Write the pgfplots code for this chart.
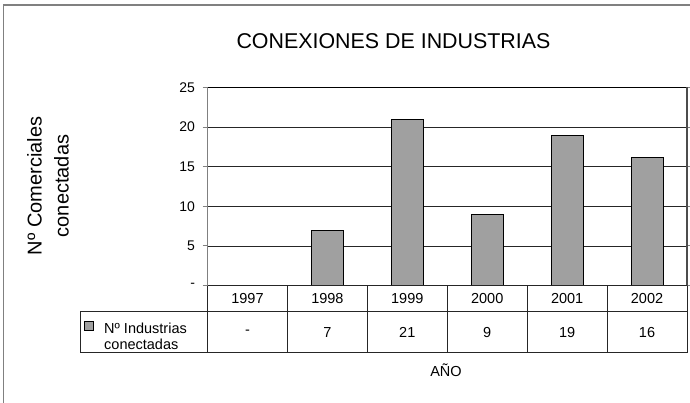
\documentclass[border=0pt]{standalone}
\usepackage{pgfplots}
\pgfplotsset{compat=1.18}
\usepackage{fontspec}
\setmainfont{Liberation Sans}
\definecolor{barfill}{RGB}{160,160,160}
\definecolor{axgray}{RGB}{128,128,128}
\newcommand{\tabfont}{\fontsize{14.5}{17}\selectfont}
\begin{document}
\begin{tikzpicture}
\useasboundingbox (0pt,0pt) rectangle (690pt,-403pt);
% outer chart border (right and bottom lie outside the picture)
\draw[axgray, line width=1.6pt] (3.5pt,-403pt) -- (3.5pt,-5pt) -- (690pt,-5pt);
\begin{axis}[
  at={(207.5pt,-285.5pt)}, anchor=south west,
  scale only axis, width=479.5pt, height=198pt,
  xmin=-0.5, xmax=5.5, ymin=0, ymax=25,
  clip=false,
  axis line style={draw=none},
  ytick={0,5,10,15,20,25}, yticklabels={-,5,10,15,20,25},
  ymajorgrids, grid style={black!85, line width=0.8pt},
  tick align=outside, major tick length=5pt,
  ytick style={axgray, line width=1pt},
  xtick={0,1,2,3,4,5}, xticklabels={1997,1998,1999,2000,2001,2002},
  xtick style={draw=none},
  xticklabel style={anchor=center, yshift=-8.5pt, font=\tabfont},
  yticklabel style={font=\fontsize{14}{16}\selectfont, xshift=-4pt},
  /pgf/number format/assume math mode=true,
]
\addplot[ybar, bar width=32pt, fill=barfill, draw=black, line width=0.9pt]
  coordinates {(1,7) (2,21) (3,9) (4,19) (5,16.2)};
\addplot[draw=none, point meta=explicit symbolic, nodes near coords,
  every node near coord/.append style={anchor=center, font=\tabfont}]
  coordinates {(0,-5.9) [-] (1,-5.9) [7] (2,-5.9) [21] (3,-5.9) [9] (4,-5.9) [19] (5,-5.9) [16]};
\end{axis}
% plot frame
\draw[axgray, line width=1.6pt] (207.5pt,-87.3pt) -- (207.5pt,-285.5pt);
\draw[black, line width=1pt] (207.5pt,-87.3pt) -- (687pt,-87.3pt);
\draw[black!70, line width=1.6pt] (687pt,-87.3pt) -- (687pt,-285.5pt);
% data table
\draw[black!85, line width=1pt] (207.5pt,-285.5pt) -- (687pt,-285.5pt);
\draw[black!85, line width=1pt] (80pt,-311.7pt) -- (687pt,-311.7pt);
\draw[black!85, line width=1pt] (80pt,-352.7pt) -- (687pt,-352.7pt);
\draw[black!85, line width=1pt] (80pt,-311.7pt) -- (80pt,-352.7pt);
\foreach \k in {0,...,6} {
  \draw[black!85, line width=1pt] ({207.5pt+\k*79.92pt},-285.5pt) -- ({207.5pt+\k*79.92pt},-352.7pt);
}
% legend key
\draw[black, fill=barfill, line width=0.8pt] (84.5pt,-321.5pt) rectangle (93.5pt,-330.5pt);
\node[anchor=base west, inner sep=0pt, font=\tabfont] at (104pt,-333pt) {Nº Industrias};
\node[anchor=base west, inner sep=0pt, font=\tabfont] at (104pt,-349pt) {conectadas};
% titles
\node[anchor=base, inner sep=0pt, font=\fontsize{21.4}{25}\selectfont] at (393.5pt,-48.5pt) {CONEXIONES DE INDUSTRIAS};
\node[rotate=90, align=center, inner sep=0pt, font=\fontsize{20}{27}\selectfont] at (48pt,-186pt) {Nº Comerciales\\conectadas};
\node[anchor=base, inner sep=0pt, font=\tabfont] at (446pt,-376pt) {AÑO};
\end{tikzpicture}
\end{document}
